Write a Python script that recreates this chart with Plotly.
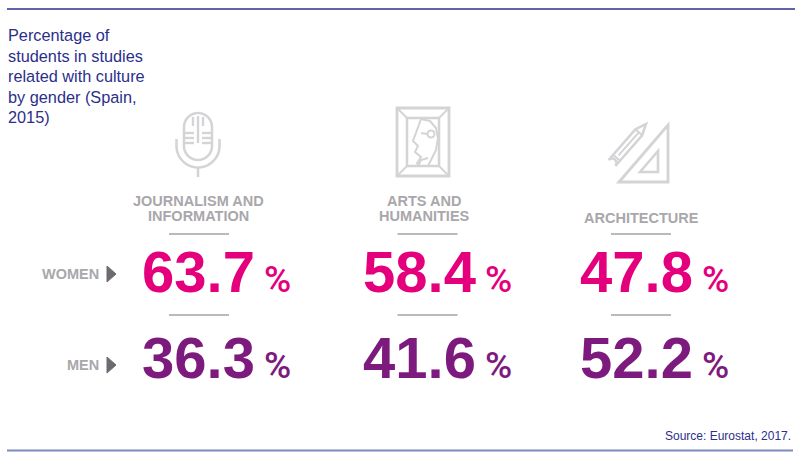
import math
import plotly.graph_objects as go

# ---------------- data ----------------
categories = [["JOURNALISM AND", "INFORMATION"], ["ARTS AND", "HUMANITIES"], ["ARCHITECTURE"]]
women = [63.7, 58.4, 47.8]
men = [36.3, 41.6, 52.2]
row_labels = ["WOMEN", "MEN"]
title_lines = ["Percentage of", "students in studies", "related with culture", "by gender (Spain,", "2015)"]
source_text = "Source: Eurostat, 2017."

# ---------------- layout / style ----------------
W, H = 800, 455
NAVY = "#2b2f8a"
PINK = "#e4007c"
PURPLE = "#7d1a7e"
LABEL_GRAY = "#a9a7ab"
ICON_GRAY = "#d4d3d5"
RULE_GRAY = "#a3a3a3"
FONT = "Liberation Sans"

col_center = [199, 427.5, 641]        # centre of each column (rules / icons)
label_center = [198, 424, 641]        # centre of the category labels
num_left = [140, 361, 578]            # left edge of the big numbers
rule_half = 30
rule_y = [234, 315]
row_y = [271, 357]                    # vertical centre of number rows
row_label_y = [274, 365]

fig = go.Figure()
fig.add_trace(go.Scatter(x=[0, W], y=[0, H], mode="markers",
                         marker=dict(opacity=0), hoverinfo="skip", showlegend=False))

shapes = []
annotations = []


def line(x0, y0, x1, y1, color, width):
    shapes.append(dict(type="line", xref="x", yref="y", x0=x0, y0=y0, x1=x1, y1=y1,
                       line=dict(color=color, width=width)))


def path(pts, color=ICON_GRAY, width=2.5, close=False, fill=None):
    d = "M" + " L".join(f"{x:.2f},{y:.2f}" for x, y in pts)
    if close:
        d += " Z"
    shapes.append(dict(type="path", xref="x", yref="y", path=d,
                       line=dict(color=color, width=width),
                       fillcolor=fill if fill else "rgba(0,0,0,0)"))


def arc(cx, cy, r, a0, a1, n=24):
    return [(cx + r * math.cos(math.radians(a0 + (a1 - a0) * i / n)),
             cy + r * math.sin(math.radians(a0 + (a1 - a0) * i / n))) for i in range(n + 1)]


# frame rules
line(7, 9, 795, 9, NAVY, 1.5)
line(7, 450.5, 793, 450.5, "#7f88c2", 2)

# title
for i, t in enumerate(title_lines):
    annotations.append(dict(x=6, y=35 + i * 20.5, xref="x", yref="y", text=t, showarrow=False,
                            xanchor="left", yanchor="middle",
                            font=dict(family=FONT, size=16.3, color=NAVY)))

# source
annotations.append(dict(x=793, y=436, xref="x", yref="y", text=source_text, showarrow=False,
                        xanchor="right", yanchor="middle",
                        font=dict(family=FONT, size=12, color=NAVY)))

# ---------------- icons ----------------
# microphone
cx = col_center[0] - 1
cap = arc(cx, 127, 14, 180, 360) + arc(cx, 146, 14, 0, 180)
path(cap, close=True)
for yy in (133, 138, 143):
    line(cx - 14, yy, cx - 4, yy, ICON_GRAY, 2.4)
    line(cx + 4, yy, cx + 14, yy, ICON_GRAY, 2.4)
line(cx, 116, cx, 143, ICON_GRAY, 2.4)
line(cx - 5, 117, cx - 5, 126, ICON_GRAY, 2.4)
line(cx + 5, 117, cx + 5, 126, ICON_GRAY, 2.4)
holder = [(cx - 21.5, 139)] + arc(cx, 146, 21.5, 180, 0) + [(cx + 21.5, 139)]
path(holder)
line(cx, 167.5, cx, 177, ICON_GRAY, 2.5)

# picture frame
path([(397, 108), (449, 108), (449, 176), (397, 176)], close=True, width=2.8)
path([(407, 118), (439, 118), (439, 166), (407, 166)], close=True)
line(397, 108, 407, 118, ICON_GRAY, 1.8)
line(449, 108, 439, 118, ICON_GRAY, 1.8)
line(397, 176, 407, 166, ICON_GRAY, 1.8)
line(449, 176, 439, 166, ICON_GRAY, 1.8)
path([(421, 119), (413, 141), (418, 146), (415, 152), (421, 157), (417, 163), (420, 166)], width=2)
path([(421, 119), (430, 121), (436, 128), (438, 138), (436, 150), (431, 160), (428, 166)], width=2)
path(arc(431, 134, 3.5, 0, 360), width=2)
line(421, 133, 427.5, 134, ICON_GRAY, 2)
path([(418, 166), (421, 160), (428, 158)], width=2)

# set square + pencil
path([(619, 182), (668, 125), (668, 182)], close=True, width=2.8)
path([(640, 172), (658, 151), (658, 172)], close=True, width=2.6)
B = (612, 163)
T = (646, 124)
L = math.hypot(T[0] - B[0], T[1] - B[1])
u = ((T[0] - B[0]) / L, (T[1] - B[1]) / L)
p = (-u[1], u[0])
w = 4.5


def pt(t, s):
    return (B[0] + u[0] * t + p[0] * s, B[1] + u[1] * t + p[1] * s)


ang = math.degrees(math.atan2(p[1], p[0]))
pencil = [pt(0, w), pt(L - 11, w), pt(L, 0), pt(L - 11, -w), pt(0, -w)] + \
         arc(B[0], B[1], w, ang + 180, ang + 360, 12)
path(pencil, close=True)
path([pt(7, w), pt(7, -w)], width=2)
path([pt(10, 0), pt(L - 11, 0)], width=2)
path([pt(L - 11, w), pt(L - 11, -w)], width=2)

# ---------------- category labels and rules ----------------
for i, cat in enumerate(categories):
    n = len(cat)
    base = 217.5 if n == 1 else 200.5
    for j, t in enumerate(cat):
        annotations.append(dict(x=label_center[i], y=base + j * 15.5, xref="x", yref="y", text=f"<b>{t}</b>",
                                showarrow=False, xanchor="center", yanchor="middle",
                                font=dict(family=FONT, size=14.5, color=LABEL_GRAY)))
    for ry in rule_y:
        line(col_center[i] - rule_half, ry, col_center[i] + rule_half, ry, RULE_GRAY, 1.5)

# ---------------- row labels ----------------
for r, lab in enumerate(row_labels):
    yy = row_label_y[r]
    annotations.append(dict(x=101, y=yy, xref="x", yref="y", text=f"<b>{lab}</b>", showarrow=False,
                            xanchor="right", yanchor="middle",
                            font=dict(family=FONT, size=14.5, color=LABEL_GRAY)))
    path([(107, yy - 8), (116, yy), (107, yy + 8)], color="#6d6a70", width=1, close=True, fill="#6d6a70")

# ---------------- values ----------------
for r, (vals, col) in enumerate([(women, PINK), (men, PURPLE)]):
    for i, v in enumerate(vals):
        annotations.append(dict(
            x=num_left[i], y=row_y[r], xref="x", yref="y",
            text=f"<b>{v:.1f}</b><span style='font-size:37px;font-family:Roboto;font-weight:500'> %</span>",
            showarrow=False, xanchor="left", yanchor="middle",
            font=dict(family=FONT, size=58, color=col)))

fig.update_layout(
    width=W, height=H, margin=dict(l=0, r=0, t=0, b=0),
    paper_bgcolor="white", plot_bgcolor="white",
    xaxis=dict(range=[0, W], visible=False, fixedrange=True),
    yaxis=dict(range=[H, 0], visible=False, fixedrange=True),
    shapes=shapes, annotations=annotations, showlegend=False,
)

fig.write_html("out.html", config={"displayModeBar": False},
               post_script="document.body.style.margin='0';document.body.style.overflow='hidden';")
